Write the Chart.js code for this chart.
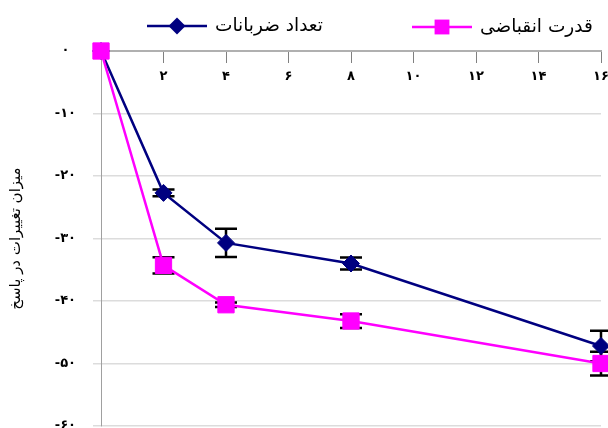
<!DOCTYPE html>
<html>
<head>
<meta charset="utf-8">
<script src="https://cdn.jsdelivr.net/npm/chart.js@4/dist/chart.umd.min.js"></script>
<style>
  body { margin: 0; background: #fff; }
  #wrap { width: 608px; height: 428px; }
</style>
</head>
<body>
<div id="wrap"><canvas id="chart"></canvas></div>
<script>
// ---------- DATA ----------
const xValues = [0, 2, 4, 8, 16];
const seriesNames = ["تعداد ضربانات", "قدرت انقباضی"];
const heartRate = [0, -22.7, -30.7, -34.0, -47.2];
const heartRateErr = [0, 0.55, 2.25, 0.95, 2.45];
const contraction = [0, -34.3, -40.6, -43.2, -50.0];
const contractionErr = [0, 1.3, 0.35, 1.1, 1.9];
const xTicks = [2, 4, 6, 8, 10, 12, 14, 16];
const xTickLabels = ["۲", "۴", "۶", "۸", "۱۰", "۱۲", "۱۴", "۱۶"];
const yTicks = [0, -10, -20, -30, -40, -50, -60];
const yTickLabels = ["۰", "-۱۰", "-۲۰", "-۳۰", "-۴۰", "-۵۰", "-۶۰"];
const yTitle = "میزان تغییرات در پاسخ";

const NAVY = "#000080";
const MAGENTA = "#ff00ff";
const ARABIC_FONT = "'DejaVu Sans', sans-serif";

// legend spots (left end of line sample) and marker sizes
const legendSpots = [{ x: 147, y: 26, r: 8.5 }, { x: 412, y: 27, r: 10.5 }];

function points(values) {
  return xValues.map((x, i) => ({ x, y: values[i] }));
}

// ---------- ERROR BARS ----------
const errorBars = {
  id: "errorBars",
  beforeDatasetsDraw(chart) {
    const { ctx, scales: { x, y } } = chart;
    ctx.save();
    ctx.strokeStyle = "#000";
    ctx.lineWidth = 2.5;
    chart.data.datasets.forEach(ds => {
      ds.errors.forEach((e, i) => {
        if (!e) return;
        const px = x.getPixelForValue(ds.data[i].x);
        const top = y.getPixelForValue(ds.data[i].y + e);
        const bot = y.getPixelForValue(ds.data[i].y - e);
        ctx.beginPath();
        ctx.moveTo(px, top); ctx.lineTo(px, bot);
        ctx.moveTo(px - 11, top); ctx.lineTo(px + 11, top);
        ctx.moveTo(px - 11, bot); ctx.lineTo(px + 11, bot);
        ctx.stroke();
      });
    });
    ctx.restore();
  }
};

// ---------- LEGEND (line + marker sample, text on the right) ----------
function marker(ctx, style, cx, cy, r) {
  ctx.beginPath();
  if (style === "rectRot") {
    ctx.moveTo(cx - r, cy); ctx.lineTo(cx, cy - r);
    ctx.lineTo(cx + r, cy); ctx.lineTo(cx, cy + r);
  } else {
    const s = Math.SQRT1_2 * r;
    ctx.rect(cx - s, cy - s, 2 * s, 2 * s);
  }
  ctx.closePath();
  ctx.fill();
}

const lineLegend = {
  id: "lineLegend",
  afterDraw(chart) {
    const ctx = chart.ctx;
    ctx.save();
    chart.data.datasets.forEach((ds, i) => {
      const spot = legendSpots[i];
      ctx.strokeStyle = ds.borderColor;
      ctx.fillStyle = ds.borderColor;
      ctx.lineWidth = ds.borderWidth;
      ctx.beginPath();
      ctx.moveTo(spot.x, spot.y);
      ctx.lineTo(spot.x + 60, spot.y);
      ctx.stroke();
      marker(ctx, ds.pointStyle, spot.x + 30, spot.y, spot.r);
      ctx.fillStyle = "#000";
      ctx.font = "18.5px " + ARABIC_FONT;
      ctx.textAlign = "left";
      ctx.textBaseline = "middle";
      ctx.fillText(ds.label, spot.x + 68, spot.y);
    });
    ctx.restore();
  }
};

// ---------- CHART ----------
new Chart(document.getElementById("chart"), {
  type: "line",
  data: {
    datasets: [
      {
        label: seriesNames[0],
        data: points(heartRate),
        errors: heartRateErr,
        borderColor: NAVY,
        backgroundColor: NAVY,
        borderWidth: 2.5,
        pointStyle: "rectRot",
        pointRadius: 8.5,
        pointBorderWidth: 1,
        clip: false,
        order: 2
      },
      {
        label: seriesNames[1],
        data: points(contraction),
        errors: contractionErr,
        borderColor: MAGENTA,
        backgroundColor: MAGENTA,
        borderWidth: 2.5,
        pointStyle: "rect",
        pointRadius: 11.5,
        pointBorderWidth: 1,
        clip: false,
        order: 1
      }
    ]
  },
  options: {
    responsive: true,
    maintainAspectRatio: false,
    animation: false,
    layout: { autoPadding: false, padding: { top: 51, bottom: 2, right: 7, left: 0 } },
    plugins: {
      legend: { display: false },
      tooltip: { enabled: false }
    },
    scales: {
      x: {
        type: "linear",
        position: { y: 0 },
        min: 0,
        max: 16,
        afterBuildTicks: scale => { scale.ticks = xTicks.map(v => ({ value: v })); },
        ticks: {
          callback: v => xTickLabels[xTicks.indexOf(v)] || "",
          color: "#000",
          font: { family: ARABIC_FONT, size: 13, weight: "bold" },
          padding: 7,
          maxRotation: 0
        },
        grid: { drawOnChartArea: false, drawTicks: true, tickLength: 11, color: "#808080", lineWidth: 1 },
        border: { color: "#b0b0b0", width: 2 },
        afterFit: scale => { scale.height = 0; scale.paddingLeft = 0; scale.paddingRight = 0; }
      },
      y: {
        min: -60,
        max: 0,
        afterBuildTicks: scale => { scale.ticks = yTicks.slice().reverse().map(v => ({ value: v })); },
        ticks: {
          callback: v => yTickLabels[yTicks.indexOf(v)],
          color: "#000",
          crossAlign: "center",
          font: { family: ARABIC_FONT, size: 13, weight: "bold" },
          padding: 17
        },
        grid: { color: "#dcdcdc", lineWidth: 1.5, tickLength: 8 },
        border: { color: "#a0a0a0", width: 1 },
        title: {
          display: true,
          text: yTitle,
          color: "#000",
          font: { family: ARABIC_FONT, size: 15 },
          padding: { top: 7, bottom: 0 }
        },
        afterFit: scale => { scale.width = 101; scale.paddingTop = 0; scale.paddingBottom = 0; }
      }
    }
  },
  plugins: [errorBars, lineLegend]
});
</script>
</body>
</html>
